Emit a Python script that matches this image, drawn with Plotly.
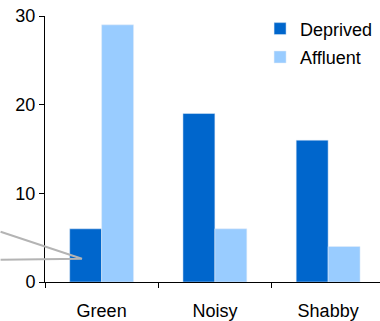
import plotly.graph_objects as go

categories = ["Green", "Noisy", "Shabby"]
deprived = [6, 19, 16]
affluent = [29, 6, 4]

FONT = dict(family="Liberation Sans, Arial, sans-serif", size=18, color="black")

fig = go.Figure()
fig.add_trace(go.Bar(x=categories, y=deprived, name="Deprived", legendgroup="d",
                     marker_color="#0066CC"))
fig.add_trace(go.Bar(x=categories, y=affluent, name="Affluent", legendgroup="a",
                     marker_color="#99CCFF"))

# grey callout pointer coming in from the left edge
fig.add_shape(
    type="path", xref="paper", yref="paper",
    path="M -0.1326 0.1887 L 0.1103 0.0876 L -0.1326 0.0838",
    line=dict(color="#b4b4b4", width=2),
)

fig.update_layout(
    width=380, height=321,
    margin=dict(l=44.5, r=0, t=15.7, b=39.3),
    paper_bgcolor="white", plot_bgcolor="white",
    font=FONT,
    barmode="group", bargap=0.436, bargroupgap=0,
    showlegend=True,
    legend=dict(x=0.642, y=1.021, xanchor="left", yanchor="top",
                bgcolor="rgba(0,0,0,0)", font=FONT, tracegroupgap=2),
)
fig.update_xaxes(
    range=[-0.5, 2.458], showline=True, linecolor="black", linewidth=1,
    ticks="outside", tickson="boundaries", ticklen=5, tickcolor="black",
    showgrid=False, ticklabelstandoff=12,
)
fig.update_yaxes(
    range=[0, 30], dtick=10, showline=True, linecolor="black", linewidth=1,
    ticks="outside", ticklen=5, tickcolor="black", showgrid=False, zeroline=False,
)

# drop the default 8px page margin so the figure sits at the window corner
fig.write_html("out.html", config={"displayModeBar": False},
               post_script="document.body.style.margin='0';")
